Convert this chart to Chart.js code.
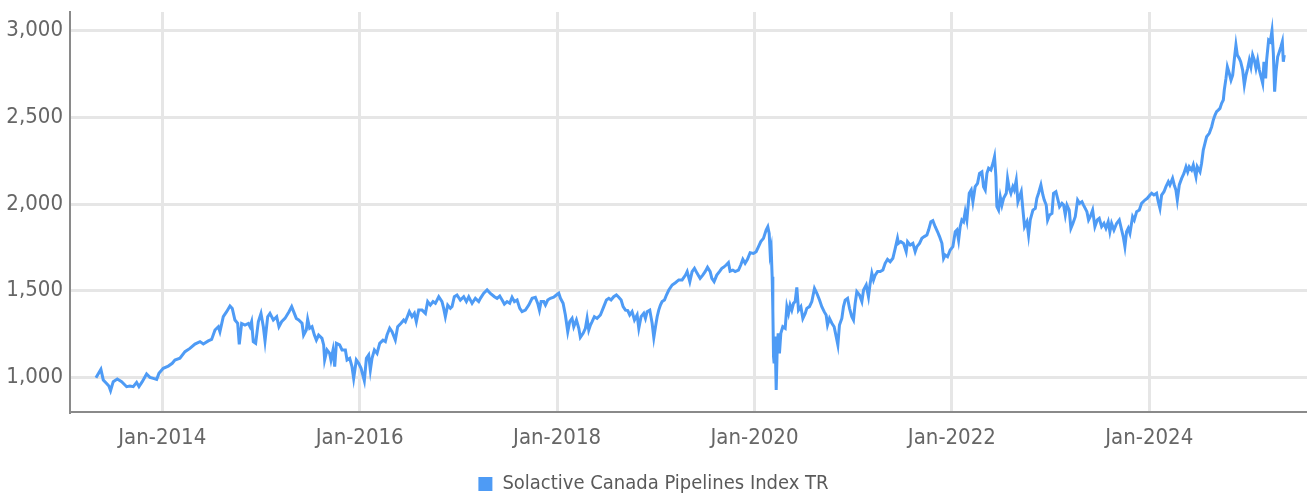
<!DOCTYPE html>
<html>
<head>
<meta charset="utf-8">
<script src="https://cdn.jsdelivr.net/npm/chart.js@4.4.1/dist/chart.umd.min.js"></script>
<style>
  html, body { margin: 0; padding: 0; background: #fff; }
  #wrap { width: 1307px; height: 496px; }
</style>
</head>
<body>
<div id="wrap"><canvas id="lineChart" width="1307" height="496"></canvas></div>
<script>
// Series label
const seriesName = 'Solactive Canada Pipelines Index TR';

// Dates as decimal years
const dates = [
  2013.328, 2013.378, 2013.402, 2013.436, 2013.459, 2013.476, 2013.503, 2013.544, 2013.588, 2013.639,
  2013.672, 2013.706, 2013.740, 2013.764, 2013.797, 2013.841, 2013.875, 2013.909, 2013.943, 2013.966,
  2014.010, 2014.061, 2014.101, 2014.128, 2014.179, 2014.230, 2014.280, 2014.331, 2014.382, 2014.416,
  2014.466, 2014.500, 2014.534, 2014.568, 2014.584, 2014.618, 2014.652, 2014.686, 2014.709, 2014.736,
  2014.764, 2014.780, 2014.804, 2014.838, 2014.872, 2014.889, 2014.905, 2014.922, 2014.946, 2014.973,
  2015.000, 2015.024, 2015.041, 2015.068, 2015.091, 2015.125, 2015.159, 2015.182, 2015.209, 2015.243,
  2015.284, 2015.311, 2015.331, 2015.358, 2015.382, 2015.416, 2015.432, 2015.459, 2015.473, 2015.493,
  2015.517, 2015.541, 2015.561, 2015.584, 2015.618, 2015.635, 2015.645, 2015.669, 2015.696, 2015.709,
  2015.730, 2015.747, 2015.764, 2015.797, 2015.821, 2015.855, 2015.872, 2015.899, 2015.922, 2015.939,
  2015.966, 2015.990, 2016.014, 2016.047, 2016.068, 2016.091, 2016.108, 2016.125, 2016.149, 2016.176,
  2016.203, 2016.236, 2016.260, 2016.277, 2016.304, 2016.328, 2016.361, 2016.385, 2016.419, 2016.446,
  2016.463, 2016.503, 2016.530, 2016.554, 2016.574, 2016.598, 2016.632, 2016.666, 2016.689, 2016.716,
  2016.743, 2016.767, 2016.801, 2016.834, 2016.851, 2016.868, 2016.892, 2016.919, 2016.936, 2016.959,
  2016.986, 2017.020, 2017.054, 2017.081, 2017.105, 2017.139, 2017.172, 2017.206, 2017.223, 2017.257,
  2017.291, 2017.324, 2017.365, 2017.392, 2017.419, 2017.443, 2017.466, 2017.493, 2017.520, 2017.544,
  2017.568, 2017.595, 2017.622, 2017.645, 2017.679, 2017.713, 2017.747, 2017.780, 2017.804, 2017.821,
  2017.838, 2017.865, 2017.882, 2017.905, 2017.932, 2017.966, 2017.993, 2018.017, 2018.034, 2018.061,
  2018.084, 2018.108, 2018.128, 2018.152, 2018.169, 2018.196, 2018.220, 2018.236, 2018.264, 2018.287,
  2018.304, 2018.321, 2018.338, 2018.355, 2018.378, 2018.405, 2018.439, 2018.473, 2018.500, 2018.524,
  2018.547, 2018.574, 2018.601, 2018.625, 2018.649, 2018.669, 2018.693, 2018.716, 2018.736, 2018.760,
  2018.784, 2018.811, 2018.828, 2018.851, 2018.878, 2018.895, 2018.912, 2018.939, 2018.963, 2018.980,
  2018.997, 2019.014, 2019.030, 2019.047, 2019.064, 2019.088, 2019.108, 2019.132, 2019.166, 2019.199,
  2019.233, 2019.267, 2019.301, 2019.318, 2019.345, 2019.368, 2019.392, 2019.419, 2019.449, 2019.476,
  2019.500, 2019.524, 2019.551, 2019.568, 2019.591, 2019.618, 2019.645, 2019.669, 2019.686, 2019.713,
  2019.736, 2019.753, 2019.780, 2019.804, 2019.838, 2019.861, 2019.882, 2019.905, 2019.929, 2019.956,
  2019.990, 2020.017, 2020.041, 2020.064, 2020.091, 2020.118, 2020.135, 2020.149, 2020.159, 2020.169,
  2020.179, 2020.186, 2020.193, 2020.199, 2020.209, 2020.220, 2020.230, 2020.240, 2020.253, 2020.267,
  2020.287, 2020.311, 2020.328, 2020.345, 2020.361, 2020.378, 2020.395, 2020.412, 2020.429, 2020.446,
  2020.470, 2020.490, 2020.514, 2020.530, 2020.557, 2020.581, 2020.608, 2020.632, 2020.659, 2020.682,
  2020.706, 2020.726, 2020.740, 2020.760, 2020.784, 2020.807, 2020.828, 2020.845, 2020.861, 2020.885,
  2020.902, 2020.919, 2020.943, 2020.963, 2020.986, 2021.003, 2021.020, 2021.037, 2021.064, 2021.088,
  2021.105, 2021.132, 2021.155, 2021.172, 2021.189, 2021.206, 2021.223, 2021.247, 2021.274, 2021.301,
  2021.324, 2021.348, 2021.375, 2021.402, 2021.426, 2021.449, 2021.459, 2021.483, 2021.510, 2021.537,
  2021.551, 2021.578, 2021.605, 2021.628, 2021.645, 2021.672, 2021.696, 2021.720, 2021.747, 2021.764,
  2021.787, 2021.807, 2021.831, 2021.855, 2021.875, 2021.899, 2021.916, 2021.932, 2021.956, 2021.983,
  2022.010, 2022.034, 2022.051, 2022.068, 2022.084, 2022.101, 2022.118, 2022.135, 2022.152, 2022.176,
  2022.196, 2022.213, 2022.236, 2022.260, 2022.280, 2022.304, 2022.321, 2022.338, 2022.355, 2022.372,
  2022.395, 2022.416, 2022.432, 2022.446, 2022.456, 2022.473, 2022.490, 2022.507, 2022.524, 2022.551,
  2022.564, 2022.581, 2022.598, 2022.618, 2022.632, 2022.652, 2022.669, 2022.686, 2022.703, 2022.720,
  2022.736, 2022.760, 2022.777, 2022.794, 2022.821, 2022.845, 2022.861, 2022.878, 2022.902, 2022.922,
  2022.936, 2022.956, 2022.970, 2022.990, 2023.014, 2023.030, 2023.054, 2023.071, 2023.091, 2023.115,
  2023.132, 2023.149, 2023.166, 2023.189, 2023.206, 2023.226, 2023.250, 2023.274, 2023.294, 2023.318,
  2023.334, 2023.368, 2023.385, 2023.402, 2023.426, 2023.449, 2023.473, 2023.493, 2023.517, 2023.541,
  2023.561, 2023.584, 2023.601, 2023.618, 2023.642, 2023.669, 2023.696, 2023.720, 2023.736, 2023.753,
  2023.770, 2023.787, 2023.804, 2023.831, 2023.848, 2023.872, 2023.899, 2023.922, 2023.956, 2023.980,
  2024.007, 2024.024, 2024.047, 2024.074, 2024.091, 2024.108, 2024.125, 2024.149, 2024.169, 2024.193,
  2024.209, 2024.236, 2024.253, 2024.270, 2024.284, 2024.304, 2024.328, 2024.351, 2024.372, 2024.389,
  2024.405, 2024.429, 2024.446, 2024.473, 2024.486, 2024.514, 2024.530, 2024.547, 2024.564, 2024.581,
  2024.608, 2024.632, 2024.649, 2024.666, 2024.682, 2024.699, 2024.716, 2024.733, 2024.750, 2024.760,
  2024.777, 2024.791, 2024.811, 2024.828, 2024.845, 2024.861, 2024.878, 2024.892, 2024.912, 2024.926,
  2024.946, 2024.963, 2024.980, 2024.997, 2025.014, 2025.030, 2025.047, 2025.064, 2025.081, 2025.098,
  2025.115, 2025.132, 2025.149, 2025.162, 2025.179, 2025.189, 2025.209, 2025.226, 2025.243, 2025.257,
  2025.270, 2025.284, 2025.301, 2025.318, 2025.334, 2025.348, 2025.358, 2025.368
];

// Index level for each date
const values = [
  998, 1046, 985, 965, 950, 923, 975, 990, 975, 946,
  950, 946, 971, 946, 975, 1019, 1000, 994, 988, 1023,
  1052, 1065, 1081, 1100, 1110, 1148, 1167, 1192, 1206, 1192,
  1210, 1219, 1273, 1292, 1263, 1350, 1379, 1412, 1398, 1331,
  1311, 1190, 1311, 1302, 1311, 1292, 1321, 1206, 1196, 1321,
  1369, 1292, 1210, 1350, 1369, 1331, 1350, 1292, 1321, 1340,
  1379, 1408, 1379, 1340, 1331, 1312, 1244, 1273, 1335, 1283,
  1292, 1244, 1215, 1244, 1225, 1187, 1100, 1158, 1138, 1100,
  1158, 1062, 1196, 1187, 1158, 1158, 1100, 1110, 1062, 994,
  1100, 1081, 1052, 981, 1110, 1129, 1042, 1110, 1158, 1138,
  1196, 1215, 1206, 1244, 1283, 1263, 1215, 1292, 1312, 1331,
  1321, 1379, 1350, 1369, 1321, 1388, 1388, 1369, 1437, 1417,
  1437, 1427, 1465, 1437, 1398, 1350, 1417, 1398, 1408, 1465,
  1475, 1446, 1465, 1437, 1465, 1427, 1456, 1437, 1456, 1485,
  1504, 1485, 1465, 1456, 1469, 1446, 1423, 1437, 1427, 1462,
  1437, 1446, 1398, 1379, 1388, 1417, 1456, 1462, 1427, 1388,
  1437, 1437, 1417, 1446, 1456, 1462, 1475, 1485, 1456, 1427,
  1360, 1263, 1321, 1340, 1292, 1331, 1283, 1231, 1254, 1283,
  1340, 1273, 1302, 1321, 1350, 1340, 1360, 1408, 1446, 1456,
  1446, 1465, 1475, 1462, 1446, 1408, 1388, 1385, 1360, 1379,
  1331, 1360, 1283, 1350, 1369, 1340, 1379, 1388, 1312, 1229,
  1292, 1350, 1388, 1417, 1437, 1446, 1475, 1504, 1533, 1546,
  1562, 1562, 1590, 1610, 1552, 1610, 1629, 1600, 1571, 1590,
  1610, 1635, 1610, 1571, 1552, 1590, 1610, 1629, 1635, 1648,
  1662, 1613, 1619, 1610, 1619, 1648, 1681, 1658, 1681, 1719,
  1715, 1725, 1754, 1783, 1802, 1850, 1869, 1831, 1715, 1744,
  1581, 1388, 1119, 1081, 1235, 927, 1158, 1254, 1138, 1254,
  1292, 1283, 1408, 1369, 1417, 1388, 1427, 1437, 1519, 1388,
  1408, 1340, 1369, 1398, 1408, 1437, 1513, 1485, 1446, 1408,
  1379, 1360, 1302, 1340, 1312, 1292, 1235, 1187, 1302, 1340,
  1408, 1446, 1456, 1398, 1350, 1331, 1427, 1494, 1475, 1437,
  1504, 1533, 1465, 1542, 1600, 1562, 1590, 1610, 1610, 1619,
  1658, 1681, 1667, 1687, 1744, 1802, 1773, 1783, 1773, 1725,
  1783, 1763, 1773, 1725, 1754, 1773, 1802, 1812, 1821, 1850,
  1898, 1904, 1869, 1840, 1812, 1773, 1687, 1706, 1696, 1735,
  1754, 1840, 1850, 1792, 1869, 1908, 1898, 1956, 1908, 2062,
  2081, 2013, 2100, 2119, 2177, 2186, 2100, 2081, 2177, 2206,
  2196, 2235, 2273, 2158, 1985, 1965, 2042, 1994, 2033, 2062,
  2148, 2090, 2062, 2100, 2081, 2138, 2013, 2042, 2071, 1965,
  1869, 1898, 1821, 1908, 1965, 1975, 2033, 2062, 2110, 2052,
  2023, 1994, 1908, 1937, 1946, 2062, 2071, 2033, 1985, 2004,
  1994, 1937, 1994, 1965, 1860, 1888, 1927, 2023, 2004, 2013,
  1994, 1956, 1908, 1927, 1965, 1869, 1908, 1917, 1869, 1888,
  1860, 1898, 1840, 1888, 1850, 1888, 1908, 1850, 1812, 1754,
  1840, 1860, 1831, 1927, 1908, 1956, 1965, 2004, 2023, 2033,
  2052, 2062, 2052, 2062, 2013, 1975, 2052, 2071, 2100, 2129,
  2110, 2148, 2110, 2081, 2023, 2110, 2148, 2177, 2215, 2186,
  2215, 2196, 2225, 2158, 2215, 2186, 2235, 2311, 2350, 2388,
  2408, 2446, 2485, 2513, 2533, 2542, 2552, 2581, 2600, 2658,
  2725, 2792, 2754, 2715, 2744, 2831, 2917, 2860, 2840, 2821,
  2773, 2687, 2744, 2783, 2831, 2792, 2860, 2831, 2783, 2831,
  2773, 2735, 2696, 2821, 2725, 2831, 2946, 2937, 3000, 2869,
  2648, 2763, 2850, 2879, 2908, 2937, 2821, 2860
];

// Tick positions
const xTicks = [2014, 2016, 2018, 2020, 2022, 2024];
const yTicks = [1000, 1500, 2000, 2500, 3000];

const blue = '#4e9bf5';
const gridColor = '#e6e6e6';
const axisColor = '#8a8a8a';
const fontFamily = "'DejaVu Sans Condensed', 'Liberation Sans Narrow', sans-serif";

const ctx = document.getElementById('lineChart').getContext('2d');

new Chart(ctx, {
  type: 'line',
  data: {
    datasets: [
      {
        label: seriesName,
        data: dates.map((d, i) => ({ x: d, y: values[i] })),
        borderColor: blue,
        backgroundColor: blue,
        borderWidth: 3,
        pointRadius: 0,
        tension: 0,
        fill: false,
      },
    ],
  },
  options: {
    responsive: false,
    animation: false,
    devicePixelRatio: 1,
    // negative bottom padding pushes the legend row down to the reference spot
    layout: { padding: { top: 12, right: 0, bottom: -8, left: 0 } },
    plugins: {
      tooltip: { enabled: false },
      legend: {
        position: 'bottom',
        labels: {
          boxWidth: 14,
          boxHeight: 14,
          padding: 1,
          color: '#5a5a5a',
          font: { family: fontFamily, size: 20 },
          generateLabels: (chart) =>
            Chart.defaults.plugins.legend.labels.generateLabels(chart).map((l) => ({ ...l, lineWidth: 0 })),
        },
      },
    },
    scales: {
      x: {
        type: 'linear',
        min: 2013.065,
        max: 2025.598,
        afterBuildTicks: (scale) => {
          scale.ticks = xTicks.map((v) => ({ value: v }));
        },
        afterFit: (scale) => {
          scale.height = 61;
          scale.paddingLeft = 0;
          scale.paddingRight = 0;
        },
        ticks: {
          color: '#666',
          padding: 13,
          maxRotation: 0,
          font: { family: fontFamily, size: 22 },
          callback: (v) => 'Jan-' + v,
        },
        grid: { color: gridColor, lineWidth: 3, drawTicks: false },
        border: { color: axisColor, width: 2 },
      },
      y: {
        min: 800,
        max: 3108,
        afterBuildTicks: (scale) => {
          scale.ticks = yTicks.map((v) => ({ value: v }));
        },
        afterFit: (scale) => {
          scale.width = 70;
          scale.paddingTop = 0;
          scale.paddingBottom = 0;
        },
        ticks: {
          color: '#666',
          padding: 7,
          font: { family: fontFamily, size: 22 },
          callback: (v) => v.toLocaleString('en-US'),
        },
        grid: { color: gridColor, lineWidth: 3, drawTicks: false },
        border: { color: axisColor, width: 2 },
      },
    },
  },
});
</script>
</body>
</html>
